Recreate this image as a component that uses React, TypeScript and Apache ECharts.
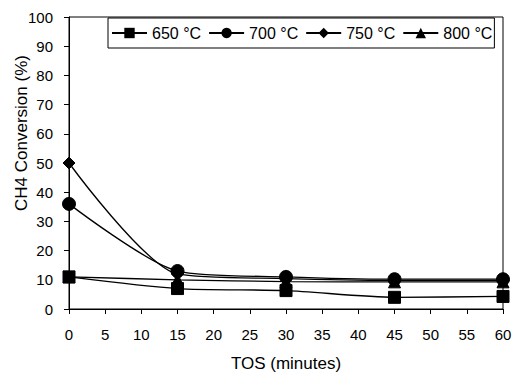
import React, { useEffect, useRef } from "react";
import * as echarts from "echarts";

const xValues = [0, 15, 30, 45, 60];
const s650 = [11, 7, 6.3, 4, 4.3];
const s700 = [36, 13, 11, 10.2, 10.2];
const s750 = [50, 12, 10.4, 9.8, 9.8];
const s800 = [11, 10, 9.4, 9.3, 9.3];
const seriesNames = ["650 °C", "700 °C", "750 °C", "800 °C"];
const seriesSymbols = ["rect", "circle", "diamond", "triangle"];
const seriesSizes = [12, 13, 12, 12];
const yTicks = { min: 0, max: 100, interval: 10 };
const xTicks = { min: 0, max: 60, interval: 5 };

const FONT = "Liberation Sans, Arial, Helvetica, sans-serif";

export default function App() {
  const ref = useRef<HTMLDivElement>(null);
  useEffect(() => {
    if (!ref.current) return;
    const chart = echarts.init(ref.current, undefined, {
      renderer: "svg",
      width: 513,
      height: 375,
    });
    const all = [s650, s700, s750, s800];
    chart.setOption({
      animation: false,
      backgroundColor: "#fff",
      grid: {
        left: 69,
        right: 10,
        top: 17,
        bottom: 66,
        show: true,
        borderColor: "#000",
        borderWidth: 1,
        containLabel: false,
        outerBoundsMode: "none",
      },
      legend: {
        left: 108,
        top: 18,
        padding: [7, 2, 7, 3],
        itemGap: 7,
        itemWidth: 35,
        itemHeight: 13,
        borderColor: "#000",
        borderWidth: 1,
        backgroundColor: "#fff",
        textStyle: { fontFamily: FONT, fontSize: 16, color: "#000" },
        data: seriesNames,
      },
      xAxis: {
        type: "value",
        min: xTicks.min,
        max: xTicks.max,
        interval: xTicks.interval,
        name: "TOS (minutes)",
        nameLocation: "middle",
        nameGap: 46,
        nameTextStyle: { fontFamily: FONT, fontSize: 17, color: "#000" },
        axisLine: { lineStyle: { color: "#000", width: 1 } },
        axisTick: { show: true, inside: false, length: 5, lineStyle: { color: "#000" } },
        axisLabel: { fontFamily: FONT, fontSize: 15, color: "#000", margin: 18 },
        splitLine: { show: false },
      },
      yAxis: {
        type: "value",
        min: yTicks.min,
        max: yTicks.max,
        interval: yTicks.interval,
        axisLine: { show: true, lineStyle: { color: "#000", width: 1 } },
        axisTick: { show: true, inside: false, length: 5, lineStyle: { color: "#000" } },
        axisLabel: { fontFamily: FONT, fontSize: 15, color: "#000", margin: 16 },
        splitLine: { show: false },
      },
      graphic: [
        {
          type: "text",
          x: 21,
          y: 133,
          rotation: Math.PI / 2,
          style: {
            text: "CH4 Conversion (%)",
            fontFamily: FONT,
            fontSize: 17,
            fill: "#000",
            align: "center",
            verticalAlign: "middle",
            textAlign: "center",
            textVerticalAlign: "middle",
          },
        },
      ],
      series: all.map((vals, i) => ({
        name: seriesNames[i],
        type: "line",
        smooth: 0.25,
        symbol: seriesSymbols[i],
        symbolSize: seriesSizes[i],
        showAllSymbol: true,
        lineStyle: { color: "#000", width: 1.3 },
        itemStyle: { color: "#000", borderColor: "#000" },
        data: xValues.map((x, j) => [x, vals[j]]),
      })),
    });
    return () => chart.dispose();
  }, []);
  return (
    <div
      ref={ref}
      style={{ position: "absolute", left: 0, top: 0, width: 513, height: 375 }}
    />
  );
}
